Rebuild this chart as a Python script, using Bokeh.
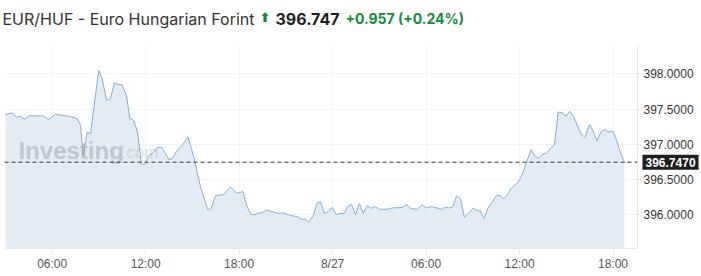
from bokeh.plotting import figure
from bokeh.layouts import column, row
from bokeh.models import Range1d, FixedTicker, Label, Span, CustomLabelingPolicy
from bokeh.core.properties import value
from bokeh.embed import file_html
from bokeh.resources import INLINE

# hours since 2024-08-26 00:00 (8/27 00:00 == 24)
hours = [
    3.00, 3.43, 3.71, 3.97, 4.22, 4.56, 5.46, 5.78, 6.21, 7.17,
    7.60, 7.82, 7.99, 8.25, 8.46, 8.99, 9.21, 9.49, 9.74, 10.00,
    10.21, 10.49, 10.77, 10.98, 11.20, 11.46, 11.73, 11.94, 12.20, 12.52,
    12.74, 13.06, 13.48, 13.70, 14.02, 14.34, 14.73, 15.09, 15.52, 15.99,
    16.21, 16.48, 16.98, 17.44, 17.77, 18.04, 18.23, 18.52, 18.77, 19.05,
    19.26, 19.48, 19.75, 20.22, 20.54, 20.80, 21.30, 21.73, 22.00, 22.26,
    22.47, 22.75, 23.01, 23.22, 23.48, 23.72, 23.97, 24.23, 24.46, 24.72,
    24.97, 25.21, 25.47, 25.72, 25.96, 26.22, 26.48, 26.71, 27.01, 27.50,
    27.82, 28.46, 28.74, 29.04, 29.43, 29.75, 30.02, 30.28, 30.60, 30.97,
    31.24, 31.46, 31.71, 31.95, 32.21, 32.46, 32.74, 33.00, 33.28, 33.49,
    33.70, 33.96, 34.24, 34.50, 34.73, 34.99, 35.20, 35.48, 35.74, 35.99,
    36.27, 36.49, 36.74, 36.98, 37.23, 37.45, 37.73, 37.98, 38.24, 38.48,
    38.73, 38.99, 39.22, 39.48, 39.74, 39.95, 40.18, 40.49, 40.72, 40.98,
    41.24, 41.47, 41.73, 41.98, 42.22, 42.48, 42.73,
]
prices = [
    397.424, 397.443, 397.386, 397.400, 397.358, 397.406, 397.400, 397.354, 397.424, 397.396,
    397.364, 397.269, 396.844, 397.174, 397.151, 398.047, 397.929, 397.622, 397.646, 397.873,
    397.849, 397.844, 397.693, 397.364, 397.349, 397.198, 396.717, 396.713, 396.844, 396.891,
    396.953, 396.953, 396.788, 396.798, 396.915, 396.986, 397.103, 396.820, 396.396, 396.076,
    396.091, 396.274, 396.289, 396.396, 396.325, 396.311, 396.340, 396.113, 396.006, 396.006,
    396.028, 396.028, 396.071, 396.042, 396.020, 396.028, 395.992, 395.977, 395.939, 395.943,
    395.893, 395.992, 396.170, 396.184, 396.020, 396.048, 396.109, 396.006, 396.020, 396.020,
    396.123, 396.151, 396.006, 396.161, 396.024, 396.127, 396.095, 396.119, 396.081, 396.081,
    396.099, 396.105, 396.147, 396.091, 396.081, 396.141, 396.099, 396.119, 396.105, 396.081,
    396.109, 396.099, 396.113, 396.269, 396.232, 395.967, 396.028, 396.095, 396.062, 396.057,
    395.943, 396.091, 396.184, 396.274, 396.279, 396.226, 396.279, 396.382, 396.430, 396.491,
    396.632, 396.774, 396.925, 396.830, 396.806, 396.854, 396.877, 396.943, 396.990, 397.457,
    397.448, 397.400, 397.471, 397.386, 397.255, 397.151, 397.099, 397.283, 397.188, 397.047,
    397.184, 397.208, 397.174, 397.188, 397.066, 396.877, 396.747,
]
last_price = 396.747
change_text = "+0.957 (+0.24%)"
title_name = "EUR/HUF - Euro Hungarian Forint"
x_tick_hours = [6, 12, 18, 24, 30, 36, 42]
x_tick_labels = ["06:00", "12:00", "18:00", "8/27", "06:00", "12:00", "18:00"]
y_ticks = [396.0, 396.5, 397.0, 397.5, 398.0]
y_tick_labels = ["396.0000", "396.5000", "397.0000", "397.5000", "398.0000"]

Y_MIN, Y_MAX = 395.525, 398.40
X_MIN, X_MAX = 2.94, 43.57
GREEN = "#148a3c"
AXIS_GREY = "#e1e6eb"
TOTAL_W, TOTAL_H = 701, 276
HEAD_H = 36
MAIN_W = 641           # plot frame ends at 637, 4 px for ticks
SIDE_W = TOTAL_W - MAIN_W
TOP, BOTTOM = 45 - HEAD_H, 28

# ---------- header strip ----------
h = figure(width=TOTAL_W, height=HEAD_H, output_backend="svg", toolbar_location=None,
           x_range=Range1d(0, TOTAL_W), y_range=Range1d(0, HEAD_H),
           x_axis_location=None, y_axis_location=None, min_border=0)
h.xgrid.visible = False
h.ygrid.visible = False
h.outline_line_color = None
hy = HEAD_H - 18
h.add_layout(Label(x=2, y=hy, x_units="screen", y_units="screen", text=title_name,
                   text_font="Inter", text_font_size="16px", text_color="#333333",
                   text_baseline="middle"))
h.add_layout(Label(x=259, y=hy + 1, x_units="screen", y_units="screen", text="\u2b06",
                   text_font="DejaVu Sans", text_font_size="13px", text_font_style="bold",
                   text_color=GREEN, text_baseline="middle"))
h.add_layout(Label(x=275, y=hy, x_units="screen", y_units="screen", text=f"{last_price:.3f}",
                   text_font="Inter", text_font_size="16px", text_font_style="bold",
                   text_color="#1f1f1f", text_baseline="middle"))
h.add_layout(Label(x=345, y=hy, x_units="screen", y_units="screen", text=change_text,
                   text_font="Inter", text_font_size="14px", text_font_style="bold",
                   text_color=GREEN, text_baseline="middle"))

# ---------- main chart ----------
p = figure(width=MAIN_W, height=TOTAL_H - HEAD_H, output_backend="svg", toolbar_location=None,
           x_range=Range1d(X_MIN, X_MAX), y_range=Range1d(Y_MIN, Y_MAX),
           y_axis_location="right",
           min_border_left=4, min_border_right=4, min_border_top=TOP, min_border_bottom=BOTTOM)
p.outline_line_color = None
p.background_fill_color = "white"
p.border_fill_color = "white"

p.varea(x=hours, y1=[Y_MIN] * len(hours), y2=prices, fill_color="#e3ecf4", fill_alpha=1.0)
p.line(x=hours, y=prices, line_color="#84add2", line_width=1.0)

ax = p.xaxis[0]
ax.ticker = FixedTicker(ticks=x_tick_hours)
ax.major_label_overrides = {hh: lab for hh, lab in zip(x_tick_hours, x_tick_labels)}
ax.axis_line_color = AXIS_GREY
ax.major_tick_line_color = AXIS_GREY
ax.major_tick_out = 5
ax.major_tick_in = 0
ax.minor_tick_line_color = None
ax.major_label_text_font = "Liberation Sans"
ax.major_label_text_font_size = "12px"
ax.major_label_text_color = "#555555"
ax.major_label_standoff = 3

# right axis of the plot: line and tick marks only (its labels are drawn in the side strip)
ay = p.yaxis[0]
ay.ticker = FixedTicker(ticks=y_ticks)
ay.axis_line_color = AXIS_GREY
ay.major_tick_line_color = AXIS_GREY
ay.major_tick_out = 4
ay.major_tick_in = 0
ay.minor_tick_line_color = None
ay.major_label_text_font_size = "0px"
ay.major_label_standoff = 0
ay.major_label_policy = CustomLabelingPolicy(code="return new Set()")

p.xgrid.grid_line_color = "#f1f3f5"
p.ygrid.grid_line_color = "#f1f3f5"

# watermark
p.add_layout(Label(x=14, y=98, x_units="screen", y_units="screen", text="Investing",
                   text_font="Liberation Sans", text_font_style="bold", text_font_size="24px",
                   text_color="#8f959b", text_alpha=0.45, text_baseline="middle"))
p.add_layout(Label(x=117, y=96, x_units="screen", y_units="screen", text=".com",
                   text_font="Liberation Sans", text_font_size="17px",
                   text_color="#8f959b", text_alpha=0.3, text_baseline="middle"))

p.add_layout(Span(location=last_price, dimension="width", line_color="#333333",
                  line_dash="4 3", line_width=1))

# ---------- price scale strip (tick labels + last price tag) ----------
s = figure(width=SIDE_W, height=TOTAL_H - HEAD_H, output_backend="svg", toolbar_location=None,
           x_range=Range1d(0, SIDE_W), y_range=p.y_range,
           x_axis_location=None, y_axis_location=None,
           min_border_left=0, min_border_right=0, min_border_top=TOP, min_border_bottom=BOTTOM)
s.xgrid.visible = False
s.ygrid.visible = False
s.outline_line_color = None
s.text(x=[2] * len(y_ticks), y=y_ticks, text=y_tick_labels, text_baseline="middle",
       text_align="left", text_font=value("Liberation Sans"), text_font_size="12px",
       text_color="#333333")
s.add_layout(Label(x=1, y=last_price, x_units="screen", y_units="data",
                   text=f"{last_price:.4f}", text_font="Liberation Sans", text_font_size="12px",
                   text_font_style="bold", text_color="white", text_baseline="middle",
                   background_fill_color="#1e1e1e", padding=3))

layout = column(h, row(p, s, spacing=0), spacing=0)
open("out.html", "w").write(file_html(layout, INLINE))
